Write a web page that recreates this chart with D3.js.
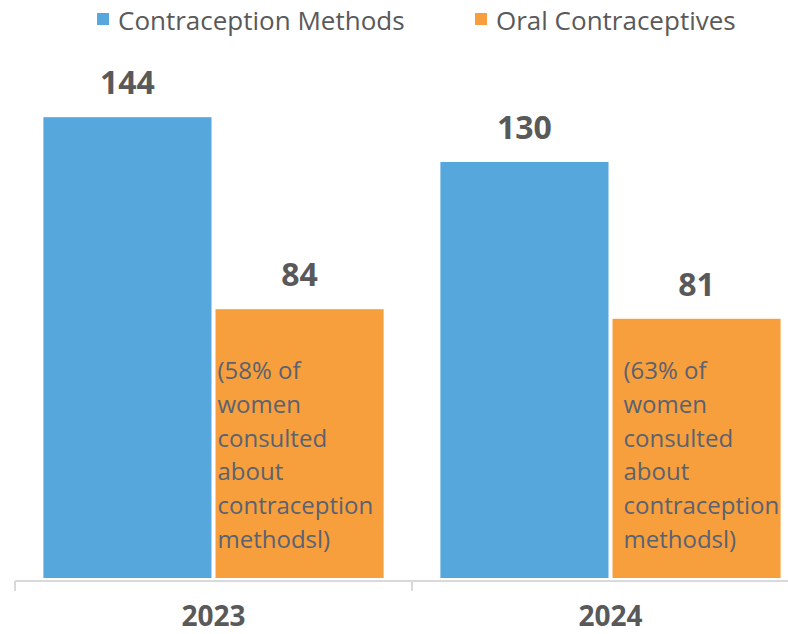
<!DOCTYPE html>
<html>
<head>
<meta charset="utf-8">
<script src="https://cdn.jsdelivr.net/npm/d3@7/dist/d3.min.js"></script>
<style>
  html, body { margin: 0; padding: 0; background: #fff; }
  svg { display: block; }
</style>
</head>
<body>
<svg id="chart" width="788" height="634"></svg>
<script>
// Chart data
const years = ["2023", "2024"];
const seriesNames = ["Contraception Methods", "Oral Contraceptives"];
const contraceptionMethods = [144, 130];
const oralContraceptives = [84, 81];
const oralNotes = [
  ["(58% of", "women", "consulted", "about", "contraception", "methodsl)"],
  ["(63% of", "women", "consulted", "about", "contraception", "methodsl)"]
];
const colors = ["#56a7dc", "#f79f3c"];

const svg = d3.select("#chart");
const font = "'Open Sans', sans-serif";
const textColor = "#595959";

const W = 788, H = 634;
const axisLeft = 15, bandWidth = 397;
const baseline = 578;

const x0 = d3.scaleBand().domain(years).range([axisLeft, axisLeft + bandWidth * years.length]);
// each year band: outer gap, two 168px bars, 4px between
const x1 = d3.scaleBand().domain(seriesNames).range([0, x0.bandwidth()])
  .paddingInner(4 / 172).paddingOuter(0.165);
const y = d3.scaleLinear().domain([0, 160]).range([baseline, 66]);

const rows = years.map((yr, i) => ({
  year: yr,
  index: i,
  values: [
    { name: seriesNames[0], value: contraceptionMethods[i] },
    { name: seriesNames[1], value: oralContraceptives[i], note: oralNotes[i] }
  ]
}));

const groups = svg.selectAll("g.year").data(rows).enter().append("g")
  .attr("class", "year")
  .attr("transform", d => `translate(${x0(d.year)},0)`);

groups.selectAll("rect").data(d => d.values).enter().append("rect")
  .attr("x", d => x1(d.name))
  .attr("y", d => y(d.value))
  .attr("width", x1.bandwidth())
  .attr("height", d => baseline - y(d.value))
  .attr("fill", (d, i) => colors[i]);

// Value labels above bars
groups.selectAll("text.val").data(d => d.values).enter().append("text")
  .attr("class", "val")
  .attr("x", d => x1(d.name) + x1.bandwidth() / 2)
  .attr("y", d => y(d.value) - 23)
  .attr("text-anchor", "middle")
  .attr("font-family", font)
  .attr("font-weight", "bold")
  .attr("font-size", 32)
  .attr("fill", textColor)
  .text(d => d.value);

// Notes inside the oral contraceptives bars
const noteInset = [2, 11];
groups.each(function(d) {
  const v = d.values[1];
  const t = d3.select(this).append("text")
    .attr("font-family", font)
    .attr("font-size", 24)
    .attr("fill", "#5a6272");
  v.note.forEach((line, k) => {
    t.append("tspan")
      .attr("x", x1(v.name) + noteInset[d.index])
      .attr("y", 379 + k * 33.8)
      .text(line);
  });
});

// Category axis
const axis = svg.append("g").attr("transform", `translate(0,${baseline + 3})`);
axis.append("line")
  .attr("x1", axisLeft).attr("x2", W)
  .attr("stroke", "#d9d9d9").attr("stroke-width", 2);
const tickXs = years.map(yr => x0(yr)).concat([x0(years[years.length - 1]) + x0.bandwidth()]);
axis.selectAll("line.tick").data(tickXs).enter().append("line")
  .attr("class", "tick")
  .attr("x1", d => d).attr("x2", d => d)
  .attr("y1", 0).attr("y2", 10)
  .attr("stroke", "#d9d9d9").attr("stroke-width", 2);
axis.selectAll("text").data(years).enter().append("text")
  .attr("x", d => x0(d) + x0.bandwidth() / 2)
  .attr("y", 45)
  .attr("text-anchor", "middle")
  .attr("font-family", font)
  .attr("font-weight", "bold")
  .attr("font-size", 28)
  .attr("fill", textColor)
  .text(d => d);

// Legend
const legendX = [97, 475];
const legend = svg.selectAll("g.legend").data(seriesNames).enter().append("g")
  .attr("class", "legend")
  .attr("transform", (d, i) => `translate(${legendX[i]},13)`);
legend.append("rect").attr("width", 12).attr("height", 12).attr("fill", (d, i) => colors[i]);
legend.append("text")
  .attr("x", 21).attr("y", 17)
  .attr("font-family", font)
  .attr("font-size", 26)
  .attr("fill", textColor)
  .text(d => d);
</script>
</body>
</html>
